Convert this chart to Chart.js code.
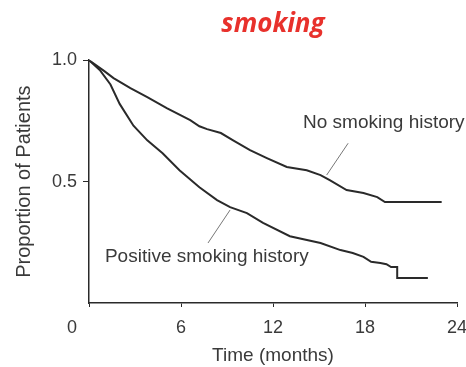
<!DOCTYPE html>
<html><head><meta charset="utf-8">
<script src="https://cdn.jsdelivr.net/npm/chart.js@4"></script>
<style>html,body{margin:0;padding:0;background:#fff}#wrap{width:466px;height:367px}</style>
</head><body><div id="wrap"><canvas id="c" width="466" height="367"></canvas></div>
<script>
// ---- data ----
const chartTitle = 'smoking';
const xAxisTitle = 'Time (months)';
const yAxisTitle = 'Proportion of Patients';
const xTickValues = [0, 6, 12, 18, 24];
const yTickValues = [0.5, 1.0];
const seriesNames = ['No smoking history', 'Positive smoking history'];

const noSmokingTime = [0, 1.0, 1.6, 2.7, 3.8, 5.1, 6.6, 7.2, 7.7, 8.6, 9.4, 10.5, 11.6, 12.9, 14.2, 15.1, 15.7, 16.8, 17.9, 18.8, 19.3, 23.0];
const noSmokingProp = [1.0, 0.955, 0.926, 0.885, 0.848, 0.802, 0.753, 0.728, 0.716, 0.70, 0.67, 0.63, 0.597, 0.56, 0.547, 0.527, 0.506, 0.465, 0.453, 0.436, 0.416, 0.416];

const smokingTime = [0, 0.7, 1.4, 2.0, 2.9, 3.8, 4.8, 5.9, 7.2, 8.35, 9.2, 10.3, 11.35, 13.1, 15.1, 16.4, 17.2, 17.9, 18.4, 19.0, 19.4, 19.7, 20.1, 20.1, 22.1];
const smokingProp = [1.0, 0.96, 0.9, 0.82, 0.73, 0.67, 0.617, 0.547, 0.477, 0.424, 0.395, 0.37, 0.33, 0.275, 0.247, 0.218, 0.206, 0.19, 0.17, 0.165, 0.16, 0.148, 0.148, 0.103, 0.103];

// curve labels (text anchor in data units) and their leader lines
const labelTextX = [13.96, 1.04];
const labelTextY = [0.741, 0.189];
const leaderNoSmokingX = [16.9, 15.5];
const leaderNoSmokingY = [0.658, 0.527];
const leaderSmokingX = [9.2, 7.76];
const leaderSmokingY = [0.383, 0.247];

// ---- chart ----
const FONT = '"Liberation Sans", Arial, sans-serif';
const TXT = '#3a3a3a';
const LINE = '#2a2a2a';
const pts = (xs, ys) => xs.map((v, i) => ({x: v, y: ys[i]}));

const labelPlugin = {
  id: 'curveLabels',
  afterDraw(chart) {
    const {ctx, scales: {x, y}} = chart;
    ctx.save();
    ctx.fillStyle = TXT;
    ctx.textBaseline = 'middle';
    ctx.textAlign = 'left';
    ctx.font = '19px ' + FONT;
    seriesNames.forEach((n, i) => ctx.fillText(n, x.getPixelForValue(labelTextX[i]), y.getPixelForValue(labelTextY[i])));
    // the "0" time label sits left of the axis origin
    ctx.textAlign = 'center';
    ctx.font = '18px ' + FONT;
    ctx.fillText(String(xTickValues[0]), x.getPixelForValue(xTickValues[0]) - 17, x.top + 4 + 10 + 10.8);
    ctx.restore();
  }
};

new Chart(document.getElementById('c'), {
  type: 'line',
  data: {
    datasets: [
      {label: seriesNames[0], data: pts(noSmokingTime, noSmokingProp), borderColor: LINE, borderWidth: 2, pointRadius: 0, tension: 0, fill: false},
      {label: seriesNames[1], data: pts(smokingTime, smokingProp), borderColor: LINE, borderWidth: 2, pointRadius: 0, tension: 0, fill: false},
      {label: 'l1', data: pts(leaderNoSmokingX, leaderNoSmokingY), borderColor: '#777', borderWidth: 1, pointRadius: 0, fill: false},
      {label: 'l2', data: pts(leaderSmokingX, leaderSmokingY), borderColor: '#777', borderWidth: 1, pointRadius: 0, fill: false}
    ]
  },
  options: {
    responsive: false,
    animation: false,
    devicePixelRatio: 1,
    layout: {padding: 0},
    plugins: {
      legend: {display: false},
      tooltip: {enabled: false},
      title: {
        display: true, text: chartTitle, color: '#e8312c', fullSize: false,
        font: {family: '"Open Sans", sans-serif', size: 26, weight: 'bold', style: 'italic'},
        padding: {top: 9, bottom: 20}
      }
    },
    scales: {
      x: {
        type: 'linear', min: 0, max: 24,
        afterBuildTicks: s => { s.ticks = xTickValues.map(v => ({value: v})); },
        afterFit: s => { s.height = 64; s.paddingRight = 9; s.paddingLeft = 0; },
        ticks: {color: TXT, font: {family: FONT, size: 18}, padding: 10, maxRotation: 0,
                callback: v => (v === xTickValues[0] ? '' : String(v))},
        grid: {drawOnChartArea: false, drawTicks: true, tickLength: 4, color: LINE},
        border: {display: true, color: LINE, width: 1.5},
        title: {display: true, text: xAxisTitle, color: TXT, font: {family: FONT, size: 19}, padding: {top: 0, bottom: 0}}
      },
      y: {
        type: 'linear', min: 0, max: 1,
        afterBuildTicks: s => { s.ticks = yTickValues.map(v => ({value: v})); },
        afterFit: s => { s.width = 89; },
        ticks: {color: TXT, font: {family: FONT, size: 18}, padding: 6, callback: v => Number(v).toFixed(1)},
        grid: {drawOnChartArea: false, drawTicks: true, tickLength: 6, color: LINE},
        border: {display: true, color: LINE, width: 1.5},
        title: {display: true, text: yAxisTitle, color: TXT, font: {family: FONT, size: 20}, padding: {top: 12, bottom: 0}}
      }
    }
  },
  plugins: [labelPlugin]
});
</script>
</body></html>
